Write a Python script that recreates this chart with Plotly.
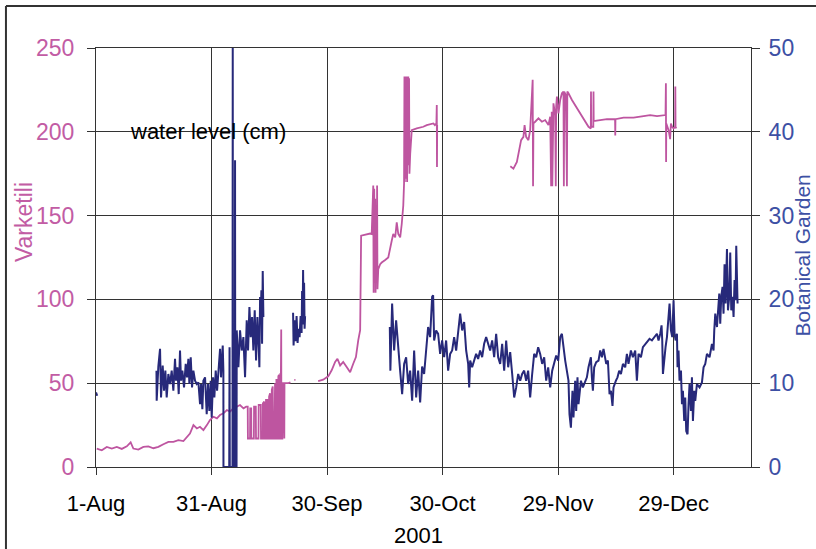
import pandas as pd
import plotly.graph_objects as go

# ---------------- data (day offset from 1 Aug 2001, value) ----------------
START_DATE = "2001-08-01"
X_END_DAY = 170.1

tick_days = [0, 30, 60, 90, 120, 150]
tick_labels = ["1-Aug", "31-Aug", "30-Sep", "30-Oct", "29-Nov", "29-Dec"]

left_ticks = [0, 50, 100, 150, 200, 250]
right_ticks = [0, 10, 20, 30, 40, 50]

# Varketili (left axis, cm)
vark_s1_days = [0.2, 1.5, 2.8, 4.1, 5.4, 6.7, 8.0, 9.0, 9.7, 11.0, 12.3, 13.6, 14.9, 16.2, 17.5, 18.8, 20.1,
                21.4, 22.7, 23.6, 24.4, 25.3, 26.2, 27.0, 27.9, 28.8, 29.6, 30.5, 31.4, 32.2, 33.1, 34.0, 34.8,
                35.7, 36.6, 37.4, 38.3, 39.0,
                39.4, 39.45, 40.0, 40.05, 40.3, 40.35, 41.0, 41.05, 41.5, 41.55, 42.2, 42.25, 42.8, 42.85, 43.3,
                43.35, 43.7, 43.75, 44.1, 44.15, 44.5, 44.55, 44.9, 44.95, 45.2, 45.25, 45.6, 45.65, 45.9, 45.95,
                46.3, 46.35, 46.5, 46.55, 46.8, 46.85, 47.0, 47.05, 47.3, 47.35, 47.5, 47.55, 47.8, 47.85, 48.0,
                48.1, 48.15, 48.4, 48.45, 48.7, 48.75, 48.9, 48.95, 50.0, 50.5]
vark_s1_vals = [11.0, 10.0, 12.0, 11.0, 12.0, 10.8, 12.3, 14.7, 11.0, 10.4, 12.0, 12.3, 11.2, 12.0, 13.6, 15.0, 15.0,
                16.0, 15.5, 18.0, 20.0, 25.0, 23.0, 24.0, 22.0, 25.0, 28.0, 30.0, 29.0, 31.0, 32.0, 34.0, 33.0,
                35.0, 36.0, 37.0, 35.0, 36.0,
                36, 17, 17, 35, 35, 17, 17, 36, 36, 17, 17, 37, 37, 17, 17,
                38, 39, 17, 17, 40, 40, 17, 17, 42, 44, 17, 17, 46, 48, 17,
                17, 48, 50, 17, 17, 52, 52, 17, 17, 54, 55, 17, 17, 56, 52,
                82, 17, 17, 50, 50, 17, 17, 50, 50, 50.5]
vark_s2_days = [51.5, 51.8]
vark_s2_vals = [52, 52]
vark_s3_days = [57.7, 59.0, 60.3, 61.2, 62.1, 62.7, 63.4, 64.2, 65.1, 66.0, 66.8, 67.5, 68.1, 68.6, 68.85, 69.9,
                71.2, 71.6, 72.0, 72.1, 72.25, 72.4, 72.5, 72.6, 72.75, 72.9, 73.0, 73.1, 73.3, 73.8, 74.2, 75.1,
                75.9, 76.8, 77.2, 77.7, 78.1, 78.5, 79.0, 79.4, 79.8, 80.0, 80.1, 80.2, 80.3, 80.4, 80.5, 80.6,
                80.7, 80.8, 80.9, 81.0, 81.1, 81.2, 81.3, 81.4, 81.6, 82.0, 83.3, 85.0, 85.9, 86.8, 87.6, 88.0,
                88.4, 88.5, 88.55, 88.6]
vark_s3_vals = [51.3, 52.1, 54.1, 57.7, 62.7, 64.6, 60.6, 62.7, 59.6, 56.6, 61.6, 65.6, 75.6, 81.6, 138, 138.7,
                139.3, 139, 168, 104, 166, 110, 160, 104, 150, 110, 168, 106, 118, 121, 122, 123.5,
                125, 135, 139, 137, 146, 139, 137, 145, 156, 169, 233, 170, 233, 172, 232, 175,
                233, 170, 232, 180, 233, 190, 232, 175, 187, 201, 202, 203, 204, 204.4, 205, 204,
                205, 216, 179, 204]
vark_s4_days = [107.6, 108.4, 109.3, 110.0, 110.4, 111.0, 111.3, 111.7, 112.3, 112.75, 113.0, 113.4, 113.5, 113.6,
                114.05, 114.9, 115.8, 116.65, 117.5, 117.95, 118.2, 118.35, 118.5, 118.8, 119.25, 119.4, 119.5,
                119.7, 120.1, 120.55, 121.0, 121.4, 121.5, 121.6, 122.0, 122.3, 122.4, 122.7, 123.6, 124.4,
                125.3, 126.2, 127.0, 127.9, 128.5, 128.55, 128.6, 129.15, 129.2, 129.25, 129.6, 130.9, 132.7,
                134.8, 134.85, 134.9, 137.0, 139.6, 142.2, 143.9, 145.7, 147.4, 147.9, 148.0, 148.05, 148.1,
                148.7, 149.1, 149.3, 149.6, 150.0, 150.4, 150.45, 150.5, 150.7]
vark_s4_vals = [179.4, 178, 182, 189, 195, 197, 204, 197, 195, 201, 211, 231, 167.5, 205,
                206, 208, 206, 207, 204, 209, 167.5, 212, 167.5, 217, 210, 167.5, 215,
                221, 211, 219, 223, 224, 167.5, 224, 222, 167.5, 224, 223, 219, 216,
                213, 210, 207, 203, 202, 224, 203, 203, 224, 206.5, 206.5, 207, 207.5,
                207.5, 197.8, 207.5, 208.4, 208.4, 209.4, 210, 209.4, 210, 210, 229, 182, 205,
                201, 195.6, 205, 203, 202, 203, 227, 203, 202]

# Botanical Garden (right axis, cm)
bot_s1_days = [0.0, 0.3]
bot_s1_vals = [8.9, 8.5]
bot_s2_days = [15.7, 15.76, 16.19, 16.63, 16.89, 17.32, 17.67, 18.01, 18.36, 18.79, 19.23, 19.66, 20.09, 20.52,
               20.78, 21.13, 21.48, 21.82, 22.08, 22.43, 22.86, 23.30, 23.64, 23.99, 24.25, 24.60, 24.94, 25.29,
               25.72, 26.15, 26.59, 27.02, 27.28, 27.62, 27.88, 28.32, 28.75, 29.10, 29.44, 29.79, 30.05, 30.40,
               30.74, 31.09, 31.44, 31.78, 32.22, 32.47, 32.91, 33.08,
               33.1, 34.6, 34.68, 34.75, 35.45, 35.51, 35.57, 36.05, 36.11, 36.17, 36.5, 36.55,
               36.98, 37.41, 37.85, 38.28, 38.71, 39.14, 39.49, 39.84, 40.18, 40.53, 40.87, 41.22, 41.57,
               41.91, 42.26, 42.43, 42.61, 42.78, 42.95, 43.13, 43.30, 43.47]
bot_s2_vals = [11.5, 7.9, 12.0, 14.1, 8.3, 12.1, 9.1, 11.5, 8.3, 11.1, 9.9, 11.5, 9.1, 12.9,
               10.3, 11.9, 8.7, 13.9, 10.3, 11.5, 9.5, 12.3, 10.7, 12.9, 9.9, 13.1, 9.5, 11.5,
               10.3, 9.9, 10.1, 7.5, 9.9, 6.9, 10.3, 10.7, 6.3, 9.9, 6.7, 10.3, 5.9, 10.7,
               8.3, 11.5, 9.1, 11.5, 14.1, 10.7, 14.5, 11.5,
               0, 0, 14.3, 0, 0, 50, 0, 0, 36.6, 0, 0, 16.3,
               11.9, 16.3, 13.9, 15.5, 10.7, 17.5, 13.9, 19.1, 15.5, 17.9, 13.9, 18.7, 12.7,
               17.9, 14.3, 11.9, 20.3, 17.9, 21.1, 14.7, 23.4, 17.9]
bot_s3_days = [51.18, 51.31, 51.57, 51.83, 52.09, 52.35, 52.61, 52.87, 53.13, 53.39, 53.52, 53.65, 53.78, 53.91,
               54.04, 54.17, 54.30]
bot_s3_vals = [18.4, 14.5, 17.5, 15.0, 18.0, 14.8, 16.5, 15.5, 18.0, 16.0, 21.0, 17.0, 23.5, 17.5,
               22.0, 16.5, 18.0]
bot_s4_days = [76.3, 76.45, 76.90, 77.42, 77.94, 78.46, 78.98, 79.50, 80.02, 80.54, 81.06, 81.58, 82.10, 82.62,
               83.14, 83.66, 84.18, 84.69, 85.21, 85.73, 86.25, 86.77, 87.29, 87.55, 87.81, 88.33, 88.85, 89.37,
               89.89, 90.41, 90.93, 91.45, 91.97, 92.49, 93.01, 93.53, 94.05, 94.57, 95.09, 95.61, 96.13, 96.65,
               96.91, 97.17, 97.68, 98.20, 98.72, 99.24, 99.76, 100.28, 100.80, 101.32, 101.84, 102.36, 102.88,
               103.40, 103.92, 104.44, 104.96, 105.48, 106.00, 106.52, 107.04, 107.56, 108.08, 108.34, 108.60,
               109.12, 109.64, 110.16, 110.67, 111.19, 111.71, 112.23, 112.75, 113.27, 113.79, 114.31, 114.83,
               115.35, 115.87, 116.39, 116.91, 117.43, 117.95, 118.47, 118.99, 119.51, 120.03, 120.55,
               120.99, 121.85, 122.70, 122.96, 123.33, 123.74, 124.00, 124.44, 124.70, 125.04, 125.30, 125.93,
               126.44, 127.04, 127.48, 127.90, 128.52, 128.78, 129.04, 129.38, 129.90, 130.50, 130.94, 131.38,
               131.80, 132.50, 132.94, 133.36, 133.72, 134.13, 134.39, 135.02, 135.43, 135.87, 136.32, 136.84,
               137.43, 137.87, 138.29, 138.91, 139.43, 140.03, 140.47, 140.89, 141.51, 142.03, 142.63, 143.23,
               143.75, 144.37, 144.97, 145.67, 146.09, 146.53, 146.87, 147.05, 147.23, 147.57, 147.91, 148.27,
               148.69, 148.95, 149.31, 149.65, 149.99, 150.25, 150.51, 150.87, 151.02, 151.28, 151.54, 151.91,
               152.17, 152.42, 152.76, 153.02, 153.28, 153.62, 153.88, 154.14, 154.50, 154.76, 155.02, 155.36,
               155.62, 156.06, 156.74, 157.36, 157.78, 158.22, 158.66, 159.33, 159.96, 160.37, 160.56, 160.82,
               161.26, 161.52, 161.86, 162.11, 162.37, 162.71, 162.97, 163.23, 163.49, 163.86, 164.12, 164.45,
               164.71, 164.97, 165.31, 165.57, 165.83, 166.09, 166.27, 166.61]
bot_s4_vals = [16.7, 11.5, 19.5, 13.9, 17.5, 13.9, 11.5, 8.7, 12.3, 13.1, 9.9, 11.5, 7.9, 13.9,
               8.3, 11.5, 7.7, 12.0, 11.1, 13.9, 16.7, 15.5, 20.3, 20.5, 15.1, 16.3, 15.9, 13.5,
               15.1, 13.1, 15.1, 11.5, 13.5, 13.9, 15.5, 13.9, 15.9, 18.3, 16.3, 17.3, 13.9, 12.3,
               9.5, 12.7, 11.9, 12.7, 13.5, 12.9, 13.9, 13.1, 14.7, 15.5, 14.7, 13.9, 15.1,
               13.1, 15.9, 13.1, 12.3, 14.7, 11.5, 15.1, 11.9, 13.7, 11.1, 9.1, 8.3,
               9.5, 11.1, 10.3, 11.1, 11.5, 10.3, 11.5, 8.3, 11.1, 13.5, 13.1, 14.3,
               13.5, 12.3, 13.1, 10.3, 11.9, 9.5, 11.5, 12.3, 13.3, 12.7, 15.5,
               15.9, 12.7, 10.3, 6.3, 4.7, 9.1, 5.9, 10.3, 6.7, 10.7, 7.5, 10.3,
               9.5, 10.3, 10.7, 11.9, 13.1, 10.7, 9.1, 11.9, 12.5, 12.7, 13.9, 13.1,
               14.1, 12.3, 12.7, 8.7, 9.1, 7.3, 9.5, 10.3, 10.7, 11.5, 11.1, 12.3,
               11.9, 13.5, 12.3, 13.9, 13.1, 13.9, 10.3, 13.5, 13.1, 14.3, 14.7, 15.1,
               15.3, 15.1, 15.5, 15.9, 15.1, 15.9, 16.9, 15.1, 11.1, 13.1, 14.3, 15.5,
               17.9, 19.5, 16.3, 15.5, 19.9, 15.9, 15.1, 15.9, 11.9, 13.9, 10.3, 11.5,
               7.5, 9.1, 5.5, 8.3, 4.3, 3.9, 7.5, 9.9, 6.7, 10.7, 5.5, 9.1,
               7.9, 9.9, 9.5, 10.1, 11.9, 12.3, 13.5, 13.1, 14.7, 13.9, 16.3, 18.3,
               16.7, 18.7, 20.7, 17.1, 20.3, 21.5, 18.3, 24.2, 19.5, 26.0, 18.7, 20.3,
               25.6, 18.7, 20.3, 17.9, 22.3, 19.9, 26.4, 19.5]

# ---------------- helpers ----------------
base = pd.Timestamp(START_DATE)


def to_dates(days):
    return [(base + pd.Timedelta(days=d)).strftime("%Y-%m-%d %H:%M:%S") for d in days]


def join(segments):
    xs, ys = [], []
    for dd, vv in segments:
        if xs:
            xs.append(None)
            ys.append(None)
        xs.extend(to_dates(dd))
        ys.extend(vv)
    return xs, ys


vx, vy = join([(vark_s1_days, vark_s1_vals), (vark_s2_days, vark_s2_vals),
               (vark_s3_days, vark_s3_vals), (vark_s4_days, vark_s4_vals)])
bx, by = join([(bot_s1_days, bot_s1_vals), (bot_s2_days, bot_s2_vals),
               (bot_s3_days, bot_s3_vals), (bot_s4_days, bot_s4_vals)])

PINK = "#BE55A0"
NAVY = "#27297A"
BLUE_TXT = "#3D50A4"
PINK_TXT = "#C25CA4"
GRID = "#333333"
FONT = "Liberation Sans, Arial, sans-serif"

fig = go.Figure()
fig.add_trace(go.Scatter(x=vx, y=vy, mode="lines", line=dict(color=PINK, width=1.8),
                         connectgaps=False, yaxis="y", name="Varketili"))
fig.add_trace(go.Scatter(x=bx, y=by, mode="lines", line=dict(color=NAVY, width=2),
                         connectgaps=False, yaxis="y2", name="Botanical Garden"))

x_end = base + pd.Timedelta(days=X_END_DAY)

fig.update_layout(
    width=816, height=549,
    margin=dict(l=96, r=65, t=48, b=82),
    paper_bgcolor="white", plot_bgcolor="white",
    showlegend=False,
    font=dict(family=FONT, size=22, color="black"),
    xaxis=dict(
        type="date",
        range=[base.strftime("%Y-%m-%d"), x_end.strftime("%Y-%m-%d %H:%M:%S")],
        tickvals=to_dates(tick_days), ticktext=tick_labels,
        showgrid=True, gridcolor=GRID, gridwidth=1,
        showline=True, mirror=True, linecolor=GRID, linewidth=1,
        ticks="outside", ticklen=7, tickcolor=GRID,
        tickfont=dict(size=22, color="black"),
        ticklabelstandoff=10,
        zeroline=False,
    ),
    yaxis=dict(
        range=[0, 250], tickvals=left_ticks,
        showgrid=True, gridcolor=GRID, gridwidth=1,
        showline=True, linecolor=GRID, linewidth=1,
        ticks="outside", ticklen=8, tickcolor=GRID,
        tickfont=dict(size=23, color=PINK_TXT),
        ticklabelstandoff=8,
        zeroline=False,
    ),
    yaxis2=dict(
        range=[0, 50], tickvals=right_ticks, overlaying="y", side="right",
        showgrid=False,
        showline=True, linecolor=GRID, linewidth=1,
        ticks="outside", ticklen=8, tickcolor=GRID,
        tickfont=dict(size=23, color=BLUE_TXT),
        ticklabelstandoff=4,
        zeroline=False,
    ),
)

annotations = [
    dict(text="water level (cm)", xref="paper", yref="y", x=(208 - 96) / 654.7, y=200,
         xanchor="center", yanchor="middle", showarrow=False, font=dict(size=22, color="black")),
    dict(text="Varketili", xref="paper", yref="paper", x=(24 - 96) / 654.7, y=(466.7 - 222) / 418.7,
         xanchor="center", yanchor="middle", textangle=-90, showarrow=False,
         font=dict(size=23, color=PINK_TXT)),
    dict(text="Botanical Garden", xref="paper", yref="paper", x=(802 - 96) / 654.7, y=(466.7 - 255) / 418.7,
         xanchor="center", yanchor="middle", textangle=-90, showarrow=False,
         font=dict(size=21, color=BLUE_TXT)),
    dict(text="2001", xref="paper", yref="paper", x=(418 - 96) / 654.7, y=(466.7 - 535.5) / 418.7,
         xanchor="center", yanchor="middle", showarrow=False, font=dict(size=22, color="black")),
]
fig.update_layout(annotations=annotations)

# outer frame (left and top edges visible)
fig.add_shape(type="line", xref="paper", yref="paper", x0=(6 - 96) / 654.7, x1=(6 - 96) / 654.7,
              y0=-0.3, y1=1 + (48 - 6) / 418.7, line=dict(color="#333333", width=2))
fig.add_shape(type="line", xref="paper", yref="paper", x0=(6 - 96) / 654.7, x1=1.2,
              y0=1 + (48 - 6) / 418.7, y1=1 + (48 - 6) / 418.7, line=dict(color="#333333", width=2))

fig.write_html("out.html", config={"displayModeBar": False},
               post_script="document.body.style.margin='0';document.body.style.overflow='hidden';")
